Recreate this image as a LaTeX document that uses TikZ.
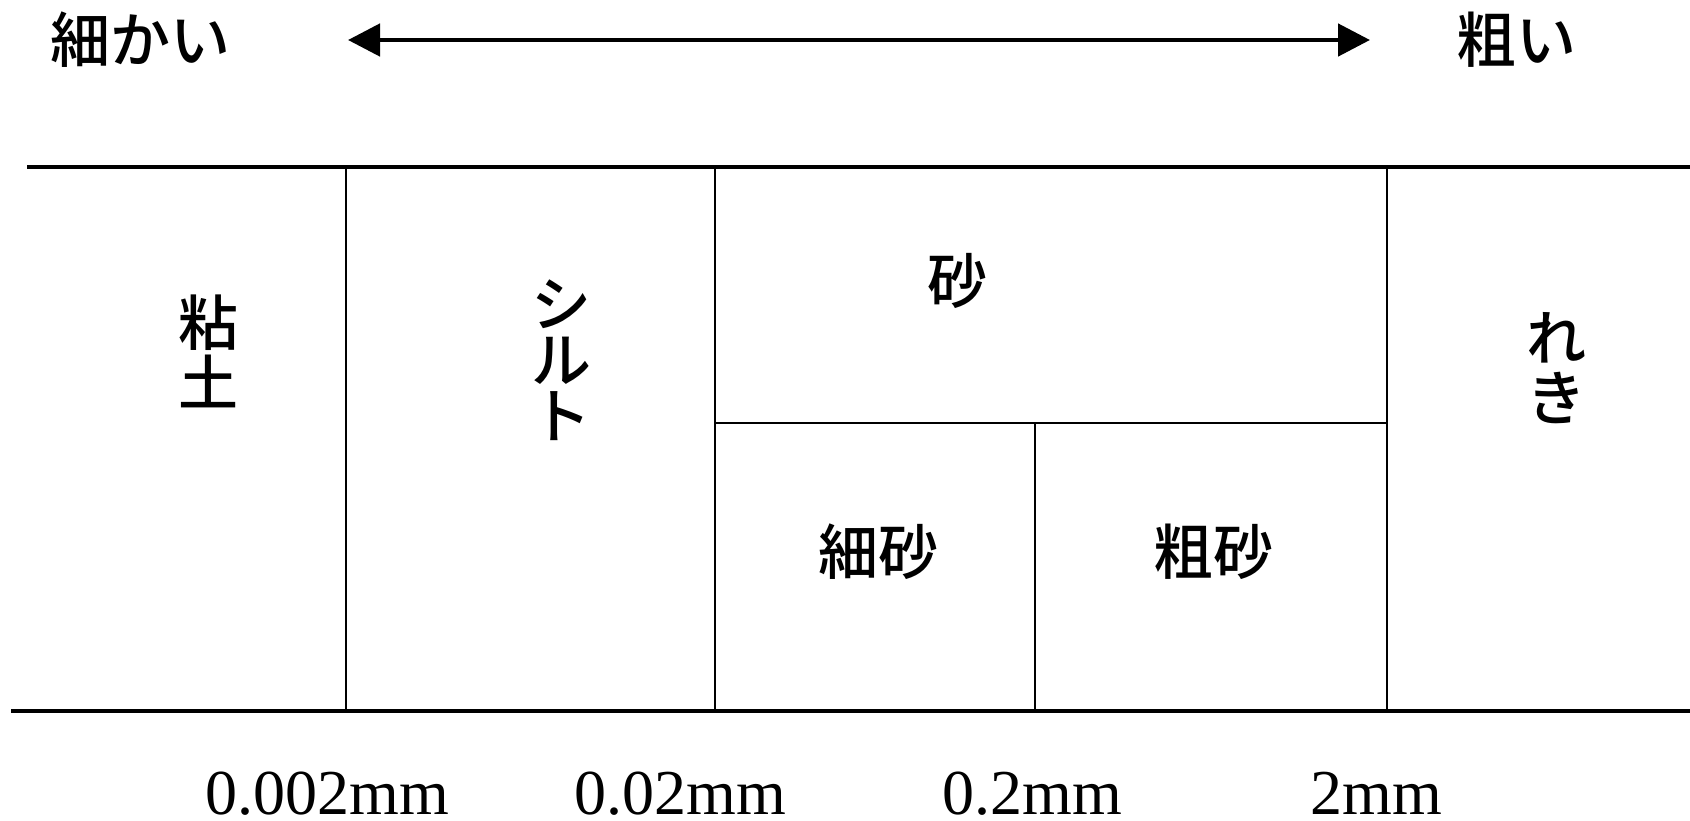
\documentclass[tikz,border=0pt]{standalone}
\usepackage{fontspec}
\setmainfont{Liberation Serif}
\newfontfamily\jp{Noto Sans CJK JP Medium}
\usetikzlibrary{arrows.meta}
\begin{document}
\begin{tikzpicture}[x=0.5pt,y=-0.5pt,
  frame/.style={line width=1.6pt},
  divider/.style={line width=1.35pt},
  jlabel/.style={font=\jp\fontsize{30}{30}\selectfont, inner sep=0pt, align=center},
  sizelabel/.style={font=\fontsize{32}{32}\selectfont, inner sep=0pt, anchor=base, text depth=0pt},
  scalearrow/.style={line width=2.4pt, {Triangle[length=16pt,width=16pt]}-{Triangle[length=16pt,width=16pt]}}]
\useasboundingbox (0,0) rectangle (1690,820);
% coordinates of the grid
\coordinate (tl) at (27,167);
\coordinate (tr) at (1690,167);
\coordinate (bl) at (11,711);
\coordinate (br) at (1690,711);
\coordinate (v1t) at (346,167);  \coordinate (v1b) at (346,711);
\coordinate (v2t) at (715,167);  \coordinate (v2b) at (715,711);
\coordinate (v4t) at (1387,167); \coordinate (v4b) at (1387,711);
\coordinate (ml) at (715,423);   \coordinate (mr) at (1387,423);
\coordinate (v3t) at (1035,423); \coordinate (v3b) at (1035,711);
\coordinate (al) at (348,40);    \coordinate (ar) at (1370,40);
% lines
\draw[frame] (tl) -- (tr);
\draw[frame] (bl) -- (br);
\draw[divider] (v1t) -- (v1b);
\draw[divider] (v2t) -- (v2b);
\draw[divider] (v4t) -- (v4b);
\draw[divider] (ml) -- (mr);
\draw[divider] (v3t) -- (v3b);
% arrow
\node[jlabel] (fine) at (140,40) {細かい};
\node[jlabel] (coarse) at (1516,40) {粗い};
\draw[scalearrow] (al) -- (ar);
% cells
\node[jlabel] (clay) at (208,351) {粘\\土};
\node[jlabel, font=\jp\fontsize{30}{28}\selectfont] (silt) at (561,360) {シ\\ル\\ト};
\node[jlabel] (sand) at (957,281) {砂};
\node[jlabel] (finesand) at (878,552) {細砂};
\node[jlabel] (coarsesand) at (1213,552) {粗砂};
\node[jlabel] (gravel) at (1556,368) {れ\\き};
% size labels
\node[sizelabel] (s1) at (327,814) {0.002mm};
\node[sizelabel] (s2) at (680,814) {0.02mm};
\node[sizelabel] (s3) at (1032,814) {0.2mm};
\node[sizelabel] (s4) at (1376,814) {2mm};
\end{tikzpicture}
\end{document}
